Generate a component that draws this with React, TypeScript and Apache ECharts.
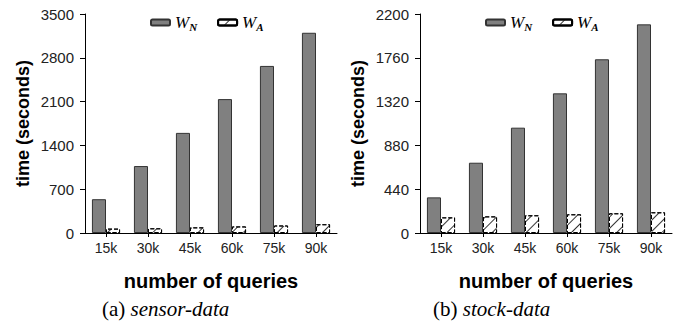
import React, { useEffect, useRef } from "react";
import * as echarts from "echarts";

const categories = ["15k", "30k", "45k", "60k", "75k", "90k"];
const sensorWN = [540, 1070, 1600, 2140, 2670, 3200];
const sensorWA = [70, 75, 90, 105, 120, 140];
const stockWN = [358, 706, 1058, 1403, 1745, 2096];
const stockWA = [157, 167, 178, 188, 198, 208];
const sensorTicks = { max: 3500, interval: 700 };
const stockTicks = { max: 2200, interval: 440 };

const hatch = {
  symbol: "rect",
  color: "#333",
  backgroundColor: "#fff",
  dashArrayX: [1, 0],
  dashArrayY: [1, 7],
  rotation: -Math.PI / 4,
  symbolSize: 1,
};

export default function App() {
  const ref = useRef<HTMLDivElement>(null);
  useEffect(() => {
    const chart = echarts.init(ref.current!, undefined, { renderer: "svg" });
    const xLabel = { fontFamily: "Liberation Sans", fontSize: 14, color: "#222", margin: 8 };
    const yLabel = { fontFamily: "Liberation Sans", fontSize: 15, color: "#222", margin: 11, formatter: (v: number) => String(v) };
    const mkX = (gi: number) => ({
      type: "category" as const,
      gridIndex: gi,
      data: categories,
      axisLine: { lineStyle: { color: "#000", width: 1 } },
      axisTick: { show: true, alignWithLabel: true, length: 4, lineStyle: { color: "#000" } },
      axisLabel: xLabel,
      name: "number of queries",
      nameLocation: "middle" as const,
      nameGap: 38,
      nameTextStyle: { fontFamily: "Liberation Sans", fontSize: 20, fontWeight: "bold" as const, color: "#000" },
    });
    const mkY = (gi: number, t: { max: number; interval: number }) => ({
      type: "value" as const,
      gridIndex: gi,
      min: 0,
      max: t.max,
      interval: t.interval,
      axisLine: { show: true, lineStyle: { color: "#000", width: 1 } },
      axisTick: { show: true, length: 5, inside: false, lineStyle: { color: "#000" } },
      splitLine: { show: false },
      axisLabel: yLabel,
      name: "time (seconds)",
      nameLocation: "middle" as const,
      nameRotate: 90,
      nameGap: 53,
      nameTextStyle: { fontFamily: "Liberation Sans", fontSize: 18, fontWeight: "bold" as const, color: "#000" },
    });
    const wnStyle = { color: "#808080", borderColor: "#333", borderWidth: 1 };
    const waStyle = { color: "#fff", borderColor: "#000", borderWidth: 1, borderType: "dashed" as const, decal: hatch };
    const legendRich = {
      w: { fontFamily: "Liberation Serif", fontStyle: "italic" as const, fontSize: 17, color: "#000" },
      s: {
        fontFamily: "Liberation Serif",
        fontStyle: "italic" as const,
        fontWeight: "bold" as const,
        fontSize: 11,
        color: "#000",
        padding: [8, 0, 0, 0],
      },
    };
    const mkLegend = (left: number) => ({
      left,
      top: 9,
      itemWidth: 19,
      itemHeight: 6,
      itemGap: 20,
      data: ["WN", "WA"],
      selectedMode: false,
      textStyle: { rich: legendRich },
      formatter: (n: string) => (n === "WN" ? "{w|W}{s|N}" : "{w|W}{s|A}"),
    });
    const capRich = {
      p: { fontFamily: "Liberation Serif", fontSize: 21, color: "#000", fontWeight: "normal" as const },
      i: { fontFamily: "Liberation Serif", fontSize: 21, fontStyle: "italic" as const, color: "#000", fontWeight: "normal" as const },
    };
    chart.setOption({
      animation: false,
      title: [
        { text: "{p|(a) }{i|sensor-data}", left: 102, top: 298, padding: 0, textStyle: { fontWeight: "normal", rich: capRich } },
        { text: "{p|(b) }{i|stock-data}", left: 433, top: 298, padding: 0, textStyle: { fontWeight: "normal", rich: capRich } },
      ],
      legend: [mkLegend(145), mkLegend(480)],
      grid: [
        { left: 85, right: 356, top: 14, bottom: 90 },
        { left: 420, right: 21, top: 14, bottom: 90 },
      ],
      xAxis: [mkX(0), mkX(1)],
      yAxis: [mkY(0, sensorTicks), mkY(1, stockTicks)],
      series: [
        { name: "WN", type: "bar", xAxisIndex: 0, yAxisIndex: 0, data: sensorWN, itemStyle: wnStyle, barGap: "0%", barCategoryGap: "33%" },
        { name: "WA", type: "bar", xAxisIndex: 0, yAxisIndex: 0, data: sensorWA, itemStyle: waStyle, barGap: "0%", barCategoryGap: "33%" },
        { name: "WN", type: "bar", xAxisIndex: 1, yAxisIndex: 1, data: stockWN, itemStyle: wnStyle, barGap: "0%", barCategoryGap: "33%" },
        { name: "WA", type: "bar", xAxisIndex: 1, yAxisIndex: 1, data: stockWA, itemStyle: waStyle, barGap: "0%", barCategoryGap: "33%" },
      ],
    });
    return () => chart.dispose();
  }, []);
  return <div ref={ref} style={{ position: "absolute", left: 0, top: 0, width: 693, height: 323, background: "#fff" }} />;
}
